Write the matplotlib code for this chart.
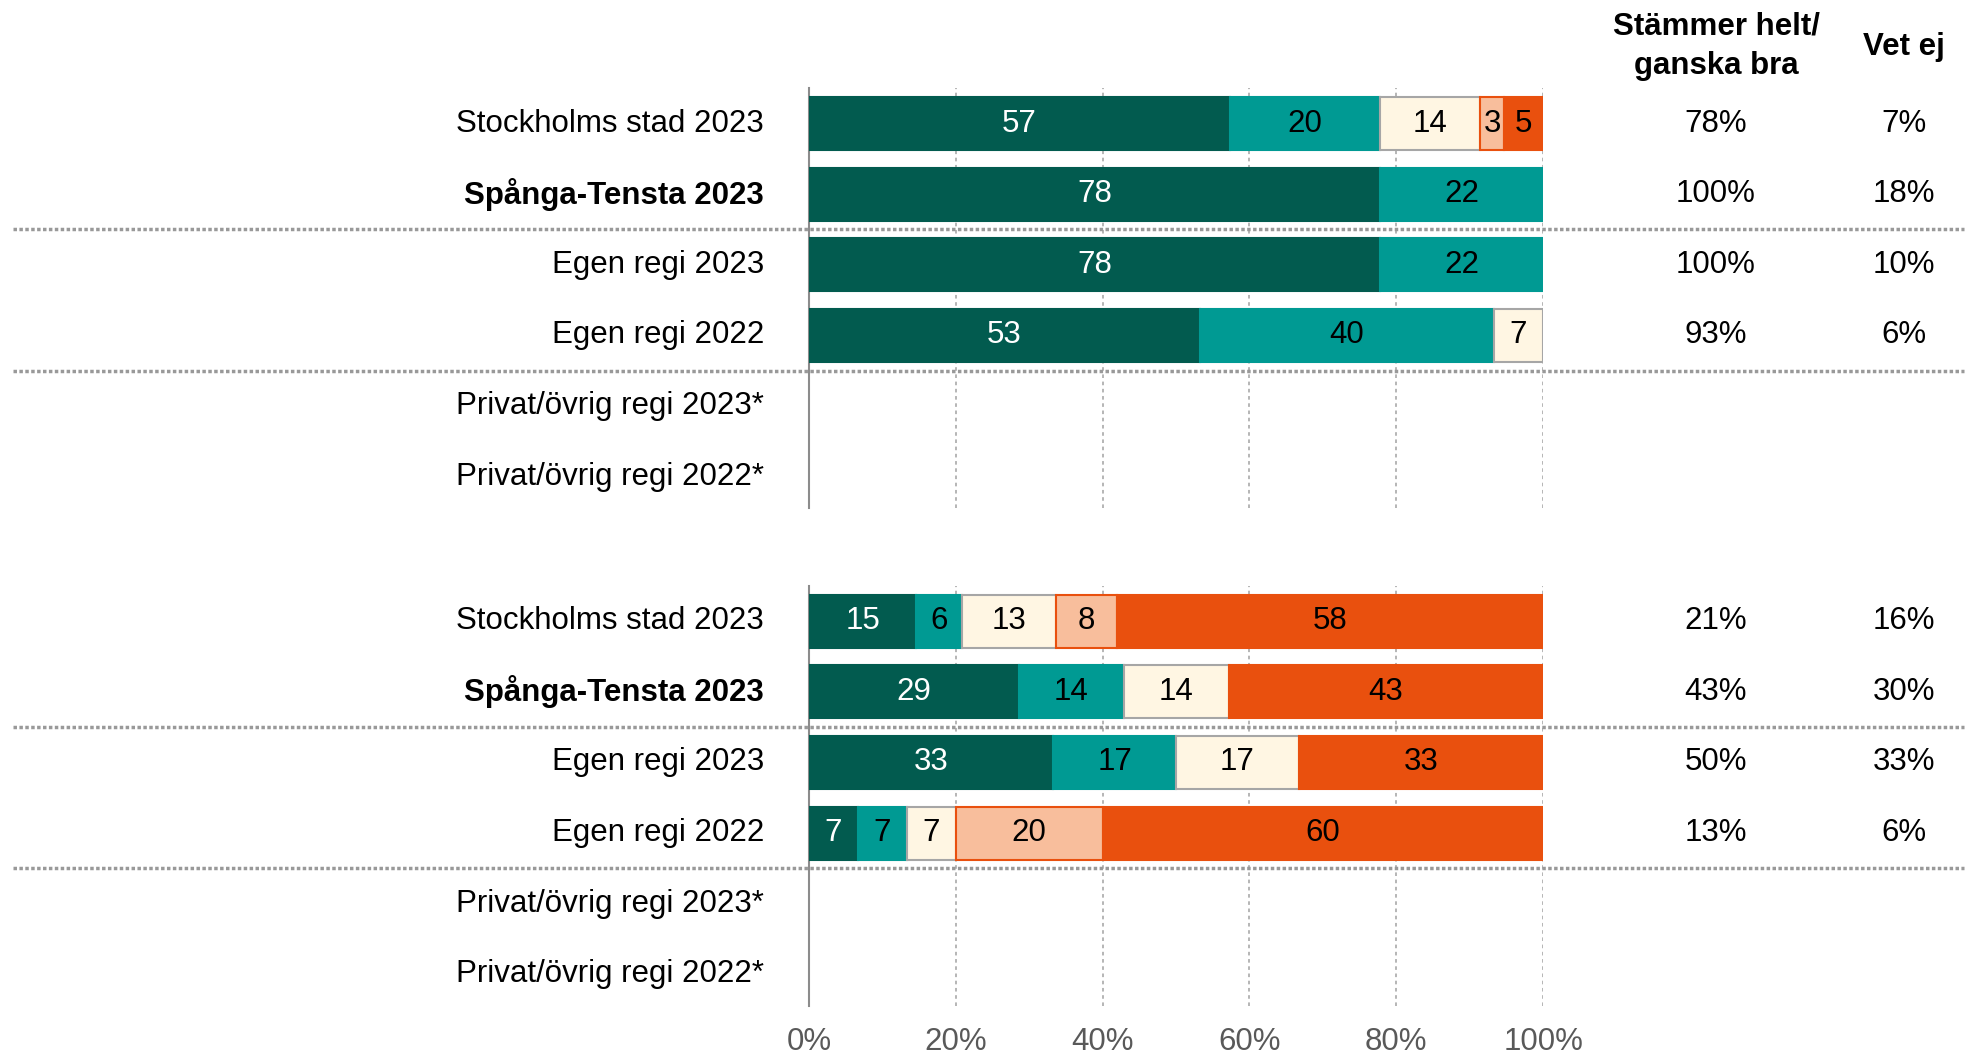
import matplotlib.pyplot as plt
import matplotlib.transforms as mtransforms

plt.rcParams['font.family'] = ['Liberation Sans', 'DejaVu Sans']

# Row labels (same for both panels)
row_labels = ["Stockholms stad 2023", "Spånga-Tensta 2023", "Egen regi 2023",
              "Egen regi 2022", "Privat/övrig regi 2023*", "Privat/övrig regi 2022*"]
bold_row = 1

# Segment shares (%) per row: [helt, ganska, varken, ganska dåligt, helt dåligt]
# shown labels are the rounded values
top_values = [
    [57.4, 20.4, 13.6, 3.3, 5.3],
    [77.8, 22.2, 0, 0, 0],
    [77.8, 22.2, 0, 0, 0],
    [53.3, 40.0, 6.7, 0, 0],
    [0, 0, 0, 0, 0],
    [0, 0, 0, 0, 0],
]
bottom_values = [
    [14.6, 6.3, 12.8, 8.2, 58.1],
    [28.6, 14.3, 14.3, 0, 42.8],
    [33.3, 16.7, 16.7, 0, 33.3],
    [6.7, 6.6, 6.7, 20.0, 60.0],
    [0, 0, 0, 0, 0],
    [0, 0, 0, 0, 0],
]

top_agree = ["78%", "100%", "100%", "93%", "", ""]
top_dontknow = ["7%", "18%", "10%", "6%", "", ""]
bottom_agree = ["21%", "43%", "50%", "13%", "", ""]
bottom_dontknow = ["16%", "30%", "33%", "6%", "", ""]

header_agree = "Stämmer helt/\nganska bra"
header_dontknow = "Vet ej"
tick_values = [0, 20, 40, 60, 80, 100]

seg_colors = ["#025B4F", "#009A93", "#FFF6E3", "#F8BE9C", "#E9500E"]
seg_edges = ["#025B4F", "#009A93", "#A6A6A6", "#E9500E", "#E9500E"]
text_colors = ["white", "black", "black", "black", "black"]

FS = 22.5
fig = plt.figure(figsize=(19.74, 10.59), dpi=100)

ax_top = fig.add_axes([0.4098, 0.5200, 0.3719, 0.3967])
ax_bot = fig.add_axes([0.4098, 0.0500, 0.3719, 0.3967])


def draw_panel(ax, values, agree, dontknow, show_ticks):
    n = len(values)
    for i, row in enumerate(values):
        left = 0
        for j, v in enumerate(row):
            if v <= 0:
                continue
            ax.barh(i, v, left=left, height=0.75, color=seg_colors[j],
                    edgecolor=seg_edges[j], linewidth=1.5, zorder=3)
            ax.text(left + v / 2, i, f"{v:.0f}", ha="center", va="center",
                    fontsize=FS, color=text_colors[j], zorder=4)
            left += v

    ax.set_xlim(0, 100)
    ax.set_ylim(5.45, -0.5)
    ax.set_yticks([])
    ax.set_xticks(tick_values)
    if show_ticks:
        ax.set_xticklabels([f"{t}%" for t in tick_values], fontsize=FS, color="#595959")
    else:
        ax.set_xticklabels([])
    ax.tick_params(axis="x", length=0, pad=15)
    for s in ["top", "right", "bottom"]:
        ax.spines[s].set_visible(False)
    ax.spines["left"].set_color("#8C8C8C")
    ax.spines["left"].set_linewidth(1.5)
    ax.xaxis.grid(True, color="#B0B0B0", linestyle=(0, (2, 2)), linewidth=1.3, zorder=0)
    ax.set_axisbelow(True)

    trans = mtransforms.blended_transform_factory(fig.transFigure, ax.transData)
    for i, lab in enumerate(row_labels[:n]):
        ax.text(0.387, i, lab, transform=trans, ha="right", va="center", fontsize=FS,
                fontweight="bold" if i == bold_row else "normal")
        ax.text(0.8693, i, agree[i], transform=trans, ha="center", va="center", fontsize=FS)
        ax.text(0.9645, i, dontknow[i], transform=trans, ha="center", va="center", fontsize=FS)

    # dotted group separators
    for yy in [1.5, 3.5]:
        ax.plot([0.0065, 0.995], [yy, yy], transform=trans, color="#999999",
                linestyle=(0, (1, 0.7)), linewidth=2.5, clip_on=False, zorder=5)


draw_panel(ax_top, top_values, top_agree, top_dontknow, False)
draw_panel(ax_bot, bottom_values, bottom_agree, bottom_dontknow, True)

fig.text(0.8693, 0.956, header_agree, ha="center", va="center", fontsize=FS,
         fontweight="bold", linespacing=1.4)
fig.text(0.9645, 0.956, header_dontknow, ha="center", va="center", fontsize=FS,
         fontweight="bold")

fig.savefig("out.png", dpi=100)
